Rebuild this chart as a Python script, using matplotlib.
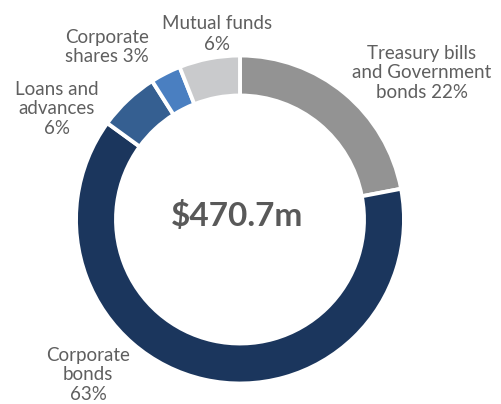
import matplotlib
matplotlib.use('Agg')
import matplotlib.pyplot as plt

# asset allocation (percent of portfolio)
labels = ['Treasury bills\nand Government\nbonds 22%', 'Corporate\nbonds\n63%',
          'Loans and\nadvances\n6%', 'Corporate\nshares 3%', 'Mutual funds\n6%']
shares = [22, 63, 6, 3, 6]
colors = ['#939393', '#1b365d', '#355f91', '#4a7fc1', '#c9cacc']
total = '$470.7m'

# label centre positions in pixels (x, y from top) and line spacing
label_pos = [(422, 73), (88, 375), (57, 109), (107, 47), (217, 34)]
label_spacing = [1.18, 1.18, 1.15, 1.12, 1.32]

W, H = 502, 404
fig = plt.figure(figsize=(W / 100, H / 100), dpi=100)
ax = fig.add_axes([0, 0, 1, 1])

cx, cy, r = 240, H - 219.5, 164
ax.pie(shares, colors=colors, startangle=90, counterclock=False,
       center=(cx, cy), radius=r, frame=True,
       wedgeprops=dict(width=40, edgecolor='white', linewidth=2.8))
ax.set_xlim(0, W)
ax.set_ylim(0, H)
ax.set_aspect('equal')
ax.axis('off')

for lab, (x, y), ls in zip(labels, label_pos, label_spacing):
    ax.text(x, H - y, lab, ha='center', va='center', fontsize=13.5,
            color='#5f5f5f', family='Lato', linespacing=ls)

ax.text(cx - 3, H - 216, total, ha='center', va='center', fontsize=24,
        fontweight='bold', color='#595959', family='Lato')

fig.savefig('out.png', dpi=100)
